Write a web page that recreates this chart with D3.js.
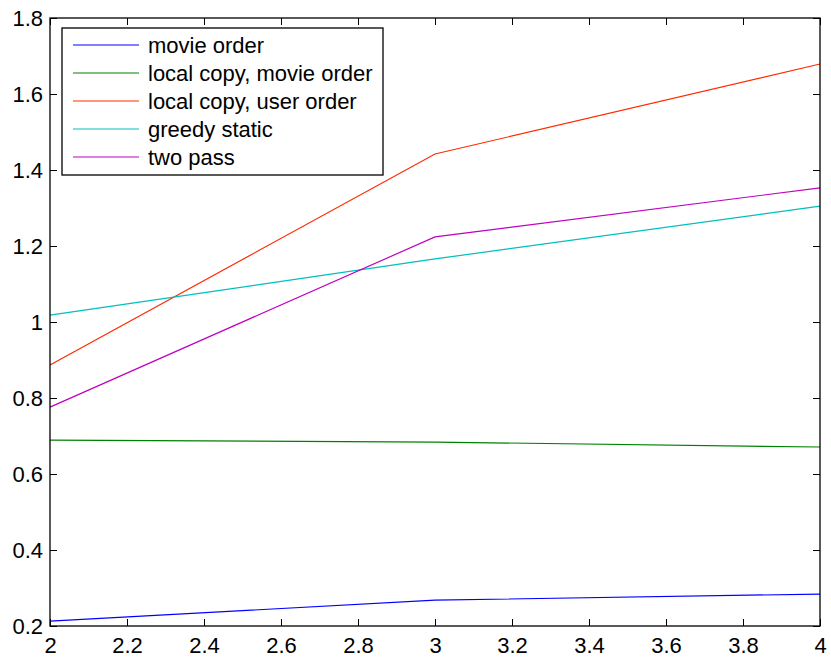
<!DOCTYPE html>
<html>
<head>
<meta charset="utf-8">
<script src="https://cdn.jsdelivr.net/npm/d3@7"></script>
<style>
  body { margin: 0; background: #fff; }
  text { font-family: "Liberation Sans", Arial, sans-serif; }
</style>
</head>
<body>
<svg width="831" height="658"></svg>
<script>
// data
var xValues = [2, 3, 4];
var movieOrder = [0.213, 0.268, 0.284];
var localCopyMovie = [0.689, 0.684, 0.671];
var localCopyUser = [0.887, 1.442, 1.679];
var greedyStatic = [1.018, 1.166, 1.305];
var twoPass = [0.776, 1.224, 1.353];
var seriesNames = ["movie order", "local copy, movie order", "local copy, user order", "greedy static", "two pass"];
var seriesColors = ["#0000ff", "#008000", "#ff2a00", "#00bfbf", "#bf00bf"];
var xTicks = [2, 2.2, 2.4, 2.6, 2.8, 3, 3.2, 3.4, 3.6, 3.8, 4];
var yTicks = [0.2, 0.4, 0.6, 0.8, 1, 1.2, 1.4, 1.6, 1.8];

var series = [movieOrder, localCopyMovie, localCopyUser, greedyStatic, twoPass];

var svg = d3.select("svg");
var plotL = 50, plotR = 820, plotT = 18, plotB = 626;

var x = d3.scaleLinear().domain([2, 4]).range([plotL, plotR]);
var y = d3.scaleLinear().domain([0.2, 1.8]).range([plotB, plotT]);

var tickLen = 7;

// ticks pointing inward, all four sides
var axes = svg.append("g").attr("class", "axes");
axes.append("g")
    .attr("transform", "translate(0," + plotB + ")")
    .call(d3.axisBottom(x).tickValues(xTicks).tickSizeInner(-tickLen).tickSizeOuter(0)
      .tickPadding(11).tickFormat(d3.format("~g")));
axes.append("g")
    .attr("transform", "translate(0," + plotT + ")")
    .call(d3.axisTop(x).tickValues(xTicks).tickSizeInner(-tickLen).tickSizeOuter(0).tickFormat(""));
axes.append("g")
    .attr("transform", "translate(" + plotL + ",0)")
    .call(d3.axisLeft(y).tickValues(yTicks).tickSizeInner(-tickLen).tickSizeOuter(0)
      .tickPadding(7).tickFormat(d3.format("~g")));
axes.append("g")
    .attr("transform", "translate(" + plotR + ",0)")
    .call(d3.axisRight(y).tickValues(yTicks).tickSizeInner(-tickLen).tickSizeOuter(0).tickFormat(""));

axes.selectAll(".domain").remove();
axes.selectAll(".tick line").attr("stroke", "#000").attr("stroke-width", 1);
axes.selectAll(".tick text")
    .attr("font-size", 22)
    .attr("fill", "#000");

// lines
var line = d3.line()
    .x(function(d, i) { return x(xValues[i]); })
    .y(function(d) { return y(d); });

svg.append("g")
    .selectAll("path")
    .data(series)
    .enter().append("path")
    .attr("d", line)
    .attr("fill", "none")
    .attr("stroke", function(d, i) { return seriesColors[i]; })
    .attr("stroke-width", 1.2);

// box
svg.append("rect")
    .attr("x", plotL).attr("y", plotT)
    .attr("width", plotR - plotL).attr("height", plotB - plotT)
    .attr("fill", "none").attr("stroke", "#000").attr("stroke-width", 1.3);

// legend
var lg = svg.append("g").attr("class", "legend");
lg.append("rect")
    .attr("x", 62).attr("y", 28).attr("width", 321).attr("height", 147)
    .attr("fill", "#fff").attr("stroke", "#000").attr("stroke-width", 1.3);

var item = lg.selectAll("g.item")
    .data(seriesNames)
    .enter().append("g")
    .attr("class", "item")
    .attr("transform", function(d, i) { return "translate(0," + (45 + i * 28) + ")"; });
item.append("line")
    .attr("x1", 73).attr("x2", 139)
    .attr("stroke", function(d, i) { return seriesColors[i]; })
    .attr("stroke-width", 1.2);
item.append("text")
    .attr("x", 148).attr("dy", "0.35em")
    .attr("font-size", 22)
    .attr("fill", "#000")
    .text(function(d) { return d; });
</script>
</body>
</html>
